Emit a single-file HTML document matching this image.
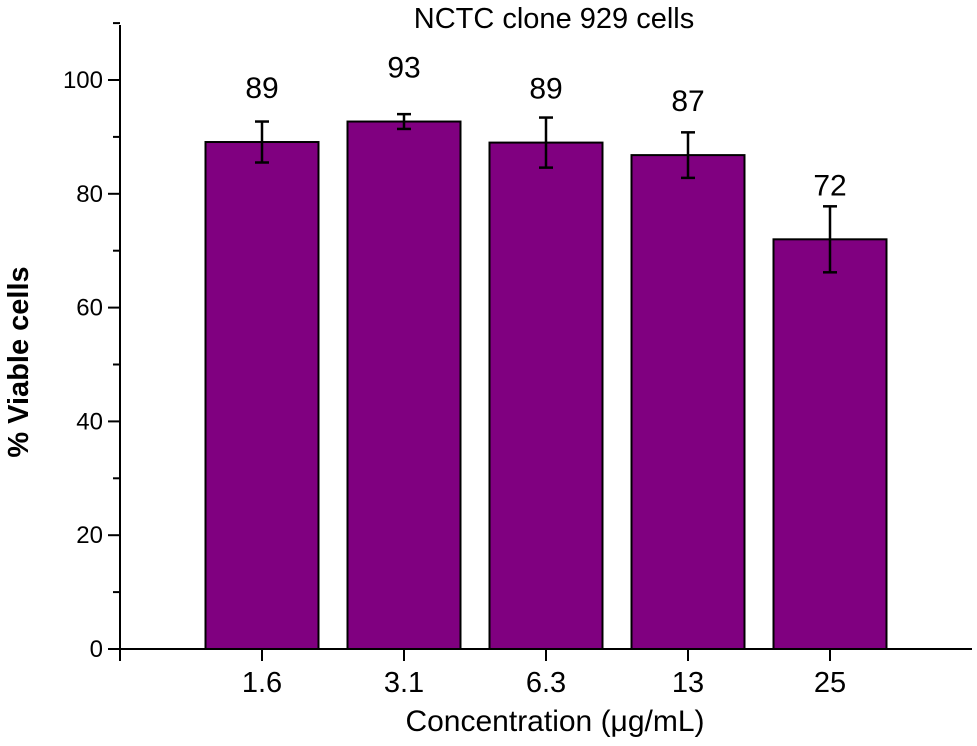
<!DOCTYPE html>
<html><head><meta charset="utf-8"><style>
html,body{margin:0;padding:0;background:#fff;}
svg{display:block;font-family:"Liberation Sans",Arial,sans-serif;}
</style></head><body>
<svg id="chart" width="977" height="746" viewBox="0 0 977 746">
<text x="554" y="28" font-size="29" text-anchor="middle">NCTC clone 929 cells</text>
<text transform="translate(28,362) rotate(-90)" font-size="29" font-weight="bold" text-anchor="middle">% Viable cells</text>
<text x="555" y="731" font-size="30" text-anchor="middle">Concentration (μg/mL)</text>
<g id="bars"></g><g id="axes"></g><g id="labels"></g>
</svg>
<script>
const categories = ["1.6","3.1","6.3","13","25"];
const means = [89.1, 92.7, 89, 86.8, 72];
const errors = [3.6, 1.3, 4.4, 4.0, 5.8];
const valueLabels = ["89","93","89","87","72"];
const yTicks = [0,20,40,60,80,100];
const yMinorTicks = [10,30,50,70,90,110];

const NS="http://www.w3.org/2000/svg";
const x0=120, step=142, yBase=649, pxPer=5.69, barW=113;
function xPos(i){return x0+step*(i+1);}
function yPos(v){return yBase-v*pxPer;}
function mk(tag,attrs,parent){const e=document.createElementNS(NS,tag);for(const k in attrs)e.setAttribute(k,attrs[k]);parent.appendChild(e);return e;}
const bars=document.getElementById('bars'), axes=document.getElementById('axes'), labels=document.getElementById('labels');

categories.forEach((c,i)=>{
  const cx=xPos(i), top=yPos(means[i]);
  const r=mk('rect',{x:cx-barW/2,y:top,width:barW,height:yBase-top,fill:'#800080',stroke:'#000','stroke-width':2},bars);
  
  
  const g=mk('g',{stroke:'#000','stroke-width':2.5},bars);
  
  
  const yt=yPos(means[i]+errors[i]), yb=yPos(means[i]-errors[i]);
  mk('line',{x1:cx,x2:cx,y1:yt,y2:yb},g);
  mk('line',{x1:cx-7,x2:cx+7,y1:yt,y2:yt},g);
  mk('line',{x1:cx-7,x2:cx+7,y1:yb,y2:yb},g);
  const t=mk('text',{x:cx,y:top-44,'font-size':30,'text-anchor':'middle'},labels);
  t.textContent=valueLabels[i];
  
  
  const tk=mk('line',{x1:cx,x2:cx,y1:yBase,y2:yBase+12,stroke:'#000','stroke-width':2},axes);
  
  
  const tl=mk('text',{x:cx,y:692,'font-size':29,'text-anchor':'middle'},labels);
  tl.textContent=c;
  
  
});
const ya=mk('line',{x1:x0,x2:x0,y1:25,y2:yBase+12,stroke:'#000','stroke-width':2},axes);


const xa=mk('line',{x1:x0-12,x2:972,y1:yBase,y2:yBase,stroke:'#000','stroke-width':2},axes);


yTicks.forEach(v=>{
  const l=mk('line',{x1:x0-12,x2:x0,y1:yPos(v),y2:yPos(v),stroke:'#000','stroke-width':2},axes);
  
  
  const t=mk('text',{x:x0-17,y:yPos(v)+8,'font-size':24,'text-anchor':'end'},labels);
  t.textContent=v;
  
  
});
yMinorTicks.forEach(v=>{
  const l=mk('line',{x1:x0-7,x2:x0,y1:yPos(v),y2:yPos(v),stroke:'#000','stroke-width':2},axes);
  
  
});
</script>
</body></html>
